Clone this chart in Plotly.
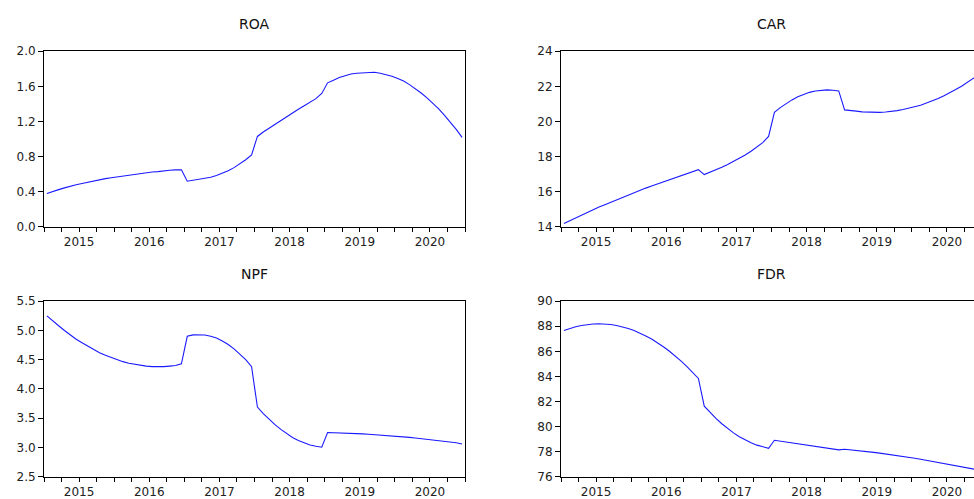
import plotly.graph_objects as go

# ---- data (monthly, 2015M01 .. 2020M12) ----
years = ["2015", "2016", "2017", "2018", "2019", "2020"]
periods = [f"{y}M{m:02d}" for y in years for m in range(1, 13)]

roa = [0.38, 0.405, 0.425, 0.445, 0.465, 0.48, 0.495, 0.51, 0.525, 0.54, 0.55, 0.56,
       0.57, 0.58, 0.59, 0.60, 0.61, 0.615, 0.625, 0.63, 0.64, 0.645, 0.65, 0.65,
       0.52, 0.53, 0.54, 0.55, 0.565, 0.585, 0.61, 0.64, 0.675, 0.715, 0.765, 0.82,
       1.03, 1.08, 1.125, 1.17, 1.215, 1.26, 1.30, 1.34, 1.38, 1.42, 1.46, 1.52,
       1.64, 1.67, 1.70, 1.72, 1.74, 1.75, 1.755, 1.76, 1.76, 1.75, 1.735, 1.715,
       1.69, 1.66, 1.62, 1.575, 1.525, 1.47, 1.41, 1.345, 1.27, 1.195, 1.11, 1.02]

car = [14.20, 14.36, 14.52, 14.68, 14.83, 14.98, 15.13, 15.27, 15.41, 15.55, 15.69, 15.82,
       15.95, 16.08, 16.21, 16.33, 16.45, 16.57, 16.69, 16.80, 16.92, 17.03, 17.14, 17.26,
       16.98, 17.11, 17.25, 17.40, 17.56, 17.73, 17.91, 18.10, 18.31, 18.54, 18.80, 19.15,
       20.52, 20.79, 21.03, 21.23, 21.41, 21.55, 21.66, 21.74, 21.78, 21.80, 21.78, 21.74,
       20.66, 20.64, 20.59, 20.55, 20.53, 20.52, 20.52, 20.54, 20.57, 20.62, 20.68, 20.75,
       20.83, 20.93, 21.05, 21.17, 21.31, 21.47, 21.63, 21.82, 22.01, 22.22, 22.44, 22.67]

npf = [5.25, 5.16, 5.08, 5.00, 4.92, 4.85, 4.79, 4.73, 4.67, 4.62, 4.575, 4.535,
       4.50, 4.467, 4.44, 4.42, 4.40, 4.39, 4.382, 4.38, 4.382, 4.39, 4.40, 4.43,
       4.90, 4.925, 4.93, 4.923, 4.90, 4.87, 4.82, 4.76, 4.685, 4.60, 4.50, 4.38,
       3.69, 3.58, 3.48, 3.39, 3.31, 3.235, 3.17, 3.12, 3.077, 3.043, 3.02, 3.005,
       3.255, 3.253, 3.25, 3.247, 3.243, 3.238, 3.233, 3.227, 3.221, 3.214, 3.207, 3.199,
       3.191, 3.182, 3.173, 3.163, 3.153, 3.142, 3.131, 3.119, 3.106, 3.093, 3.08, 3.06]

fdr = [87.66, 87.82, 87.96, 88.06, 88.14, 88.185, 88.20, 88.185, 88.14, 88.06, 87.96, 87.82,
       87.66, 87.46, 87.23, 86.98, 86.69, 86.37, 86.03, 85.65, 85.24, 84.80, 84.33, 83.84,
       81.63, 81.12, 80.66, 80.23, 79.84, 79.50, 79.19, 78.93, 78.71, 78.52, 78.38, 78.27,
       78.91, 78.84, 78.77, 78.70, 78.63, 78.56, 78.49, 78.42, 78.35, 78.28, 78.21, 78.14,
       78.19, 78.15, 78.10, 78.05, 78.00, 77.94, 77.88, 77.82, 77.76, 77.69, 77.62, 77.55,
       77.47, 77.39, 77.31, 77.23, 77.15, 77.07, 76.98, 76.89, 76.80, 76.71, 76.62, 76.53]

titles = ["ROA", "CAR", "NPF", "FDR"]
y_ranges = [[0, 2.0], [14, 24], [2.5, 5.5], [76, 90]]
y_dticks = [0.4, 2, 0.5, 2]
y_formats = [".1f", "d", ".1f", "d"]

# ---- figure geometry ----
W, H = 974, 499
x_idx = list(range(len(periods)))
px_per_obs = 421 / len(periods)

left_dom = [44 / W, 465 / W]
right_dom = [561 / W, 1.0]
right_end = -0.5 + (W - 561) / px_per_obs
top_dom = [1 - 226.3 / H, 1 - 45.5 / H]
bot_dom = [1 - 483.3 / H, 1 - 302.7 / H]

# quarterly ticks with year labels at mid-year
tickvals = [-0.5 + 3 * k for k in range(len(periods) // 3 + 1)]
ticktext = []
for k, tv in enumerate(tickvals):
    lab = ""
    for yi, y in enumerate(years):
        if abs(tv - (5.5 + 12 * yi)) < 1e-9:
            lab = y
    ticktext.append(lab)

series = [roa, car, npf, fdr]
fig = go.Figure()
font_family = "DejaVu Sans"

for n, (s, ttl) in enumerate(zip(series, titles)):
    k = "" if n == 0 else str(n + 1)
    fig.add_trace(go.Scatter(x=x_idx, y=s, mode="lines",
                             line=dict(color="#1a1aff", width=1.1),
                             xaxis="x" + k, yaxis="y" + k,
                             hovertext=periods, showlegend=False))
    is_right = n % 2 == 1
    xdom = right_dom if is_right else left_dom
    ydom = top_dom if n < 2 else bot_dom
    xr = [-0.5, right_end] if is_right else [-0.5, len(periods) - 0.5]
    fig.update_layout(**{
        "xaxis" + k: dict(domain=xdom, range=xr, anchor="y" + k,
                          tickmode="array", tickvals=tickvals, ticktext=ticktext,
                          ticks="outside", ticklen=4, tickcolor="black", tickwidth=1,
                          showline=True, linecolor="black", linewidth=1, mirror=True,
                          showgrid=False, zeroline=False,
                          tickfont=dict(family=font_family, size=12, color="#222222")),
        "yaxis" + k: dict(domain=ydom, range=y_ranges[n], anchor="x" + k,
                          dtick=y_dticks[n], tick0=y_ranges[n][0], tickformat=y_formats[n],
                          ticks="outside", ticklen=5, tickcolor="black", tickwidth=1,
                          showline=True, linecolor="black", linewidth=1,
                          mirror=(not is_right),
                          showgrid=False, zeroline=False,
                          tickfont=dict(family=font_family, size=12, color="#222222")),
    })
    cx = (44 + 465) / 2 / W if not is_right else (561 + 982) / 2 / W
    cy = 1 - 18 / H if n < 2 else 1 - 275 / H
    fig.add_annotation(text=ttl, x=cx, y=cy, xref="paper", yref="paper",
                       xanchor="center", yanchor="middle", showarrow=False,
                       font=dict(family=font_family, size=14, color="#111111"))

fig.update_layout(width=W, height=H, margin=dict(l=0, r=0, t=0, b=0),
                  paper_bgcolor="white", plot_bgcolor="white")

fig.write_html("out.html", config={"displayModeBar": False},
               post_script="document.body.style.margin='0';document.body.style.overflow='hidden';")
